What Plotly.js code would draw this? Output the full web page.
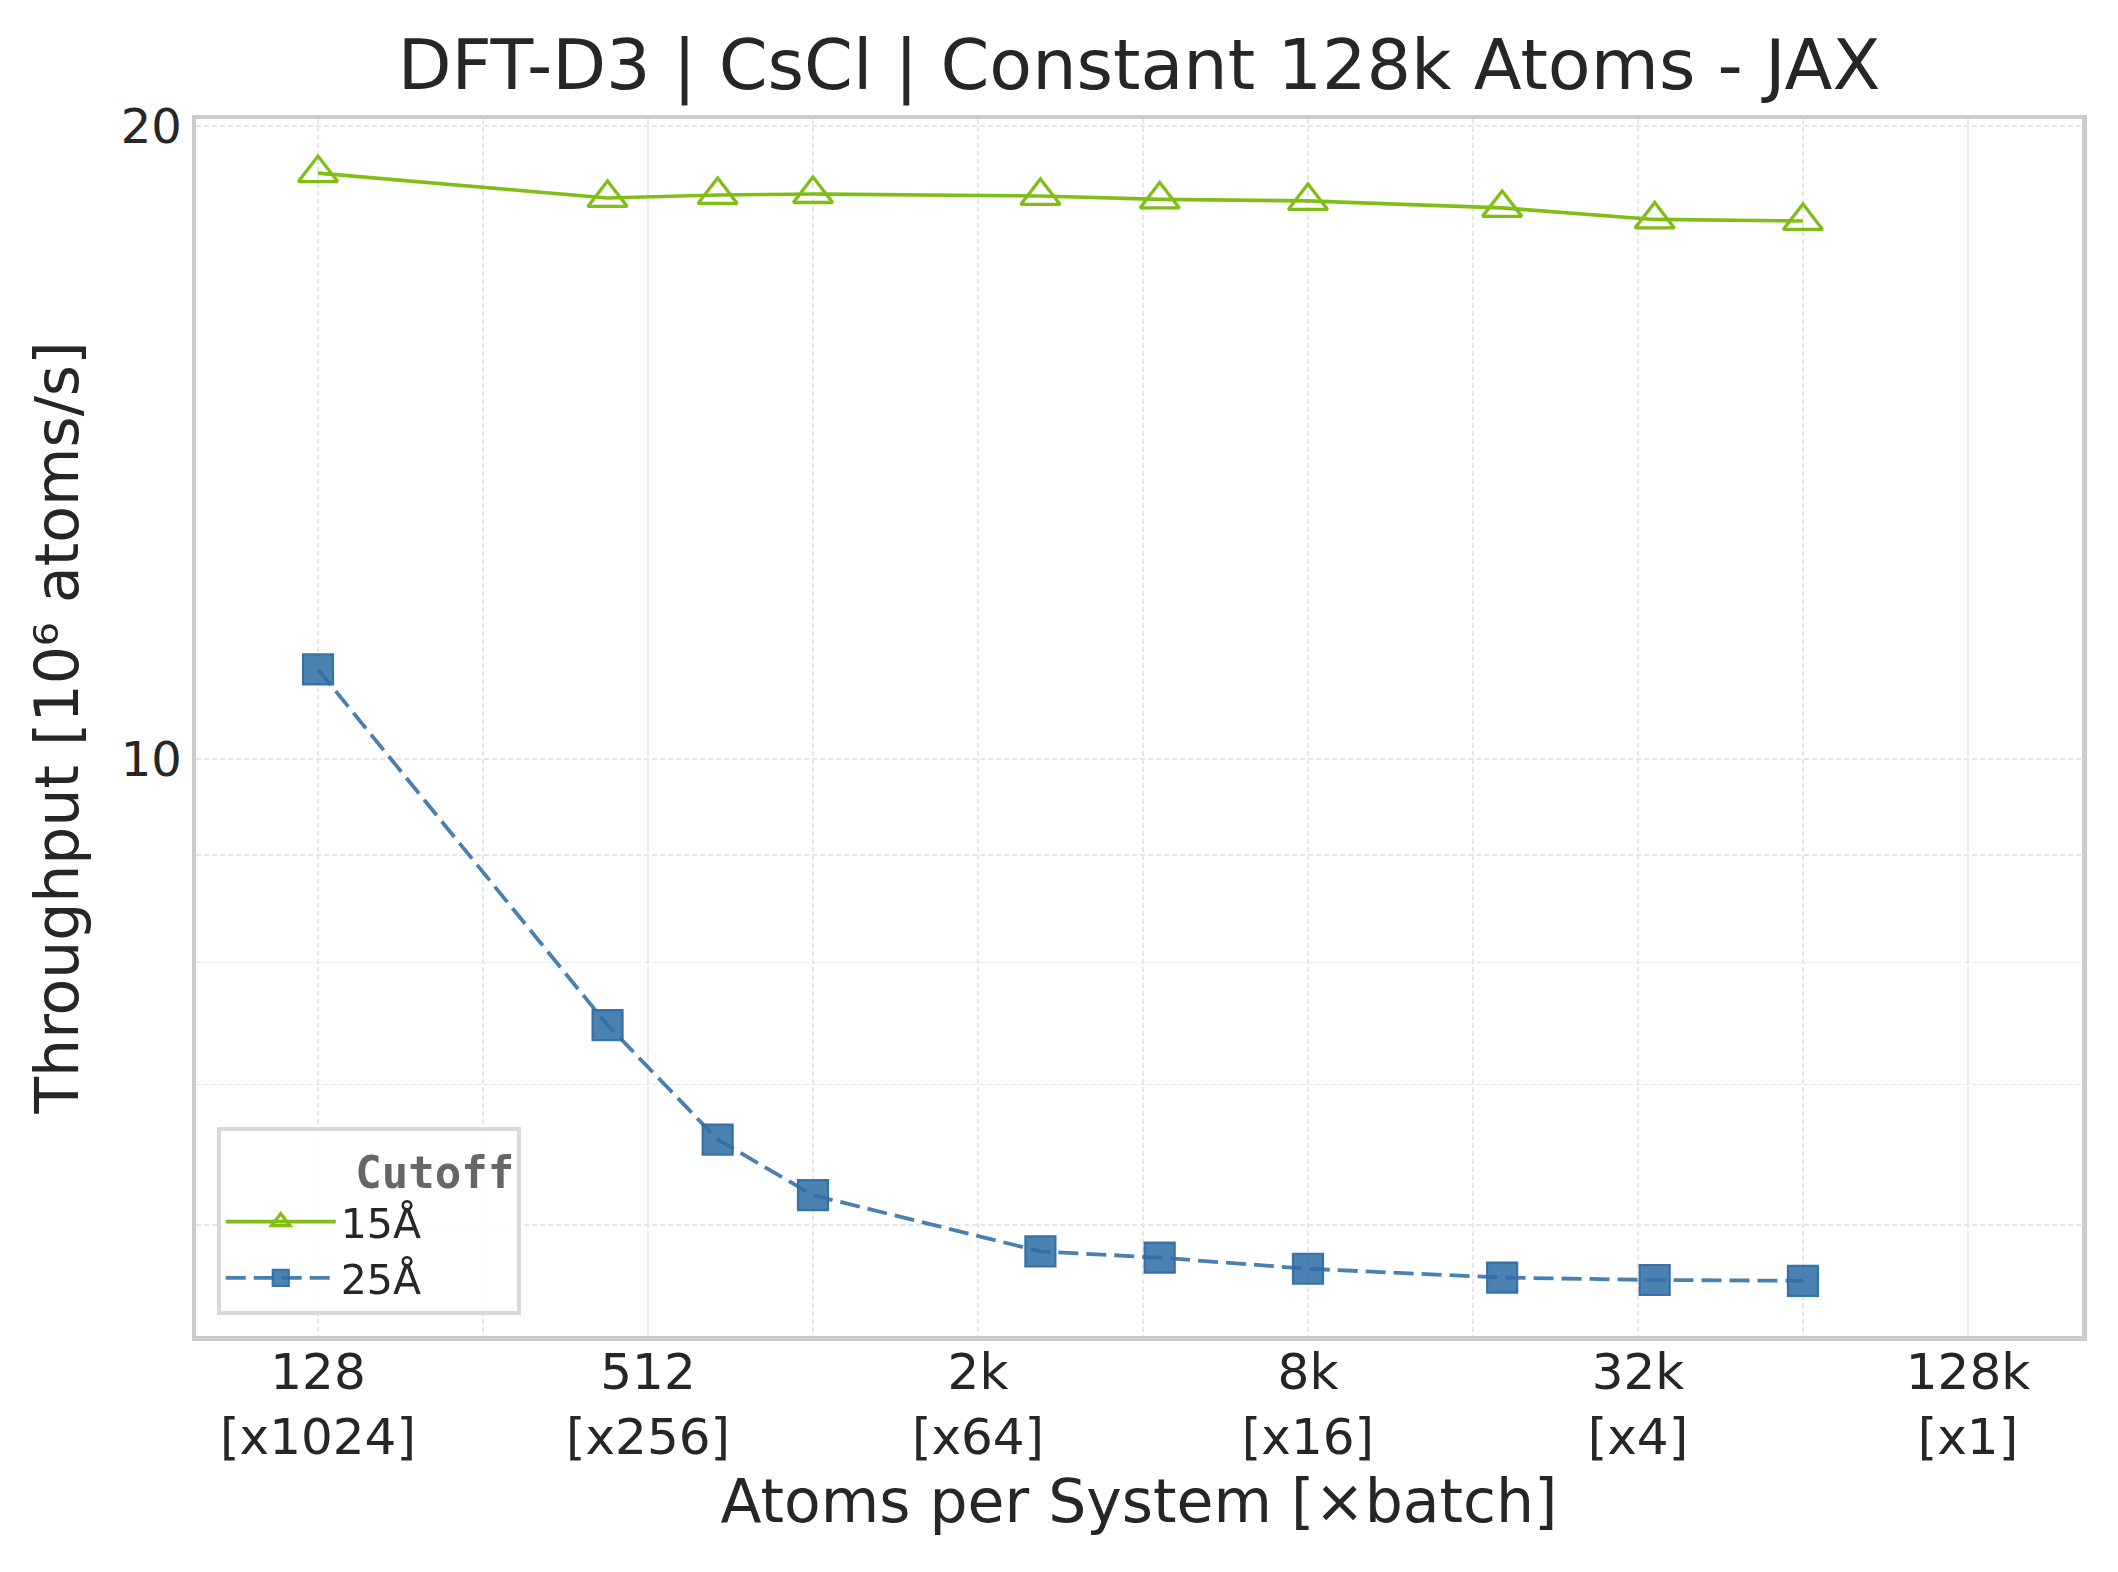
<!DOCTYPE html>
<html>
<head>
<meta charset="utf-8">
<script src="https://cdn.plot.ly/plotly-3.0.1.min.js"></script>
<style>
  html, body { margin: 0; padding: 0; background: #fff; }
  #chart { width: 2118px; height: 1572px; }
</style>
</head>
<body>
<div id="chart"></div>
<script>
// ═══ Data ═══
const atoms = [128, 432, 686, 1024, 2662, 4394, 8192, 18522, 35152, 65536];
const tput15 = [19.00, 18.49, 18.55, 18.57, 18.53, 18.46, 18.43, 18.29, 18.06, 18.03];
const tput25 = [11.03, 7.47, 6.59, 6.20, 5.83, 5.79, 5.72, 5.665, 5.65, 5.645];

const xTickVals = [128, 512, 2048, 8192, 32768, 131072];
const xTickText = ["128<br>[x1024]", "512<br>[x256]", "2k<br>[x64]", "8k<br>[x16]", "32k<br>[x4]", "128k<br>[x1]"];
const xMinorVals = [256, 1024, 4096, 16384, 65536];
const yTickVals = [6, 7, 8, 9, 10, 20];
const yTickText = ["", "", "", "", "10", "20"];

// ═══ Theme ═══
const C = { green: "#76b900", blue: "#2f6ea5", text: "#262626", grid: "#e6e6e6", frame: "#cccccc" };
const FONT = "DejaVu Sans, Verdana, sans-serif";
const GRID = { showgrid: true, gridcolor: C.grid, gridwidth: 1.6, griddash: "5px,3px" };

const traces = [
    {
        x: atoms, y: tput15, name: "15Å", mode: "lines+markers",
        line: { color: C.green, width: 3.6 }, opacity: 0.92,
        marker: { symbol: "triangle-up-open", size: 34, color: C.green, line: { color: C.green, width: 3.3 } }
    },
    {
        x: atoms, y: tput25, name: "25Å", mode: "lines+markers",
        line: { color: "rgba(47,110,165,0.88)", width: 3.8, dash: "20px,8px" },
        marker: { symbol: "square", size: 30, color: "rgba(47,110,165,0.86)", line: { color: "rgba(47,110,165,0.95)", width: 2.2 } }
    }
];

const layout = {
    width: 2118, height: 1572,
    margin: { l: 196, r: 36, t: 119, b: 236 },
    paper_bgcolor: "#ffffff", plot_bgcolor: "#ffffff",
    font: { family: FONT, color: C.text, size: 48 },
    showlegend: true,
    title: {
        text: "DFT-D3 | CsCl | Constant 128k Atoms - JAX",
        font: { family: FONT, size: 70, color: C.text },
        x: 0.5, xref: "paper", xanchor: "center",
        y: 0.9587, yref: "container", yanchor: "middle"
    },
    xaxis: {
        type: "log", range: [1.8846, 5.3256],
        tickmode: "array", tickvals: xTickVals, ticktext: xTickText,
        ticks: "", tickfont: { size: 50, color: C.text }, ticklabelstandoff: -12,
        ...GRID,
        minor: { tickmode: "array", tickvals: xMinorVals, ticks: "", ...GRID },
        showline: true, linecolor: C.frame, linewidth: 4.5, mirror: true, zeroline: false,
        title: { text: "Atoms per System [×batch]", font: { size: 60, color: C.text }, standoff: 4 }
    },
    yaxis: {
        type: "log", range: [0.7254, 1.3045],
        tickmode: "array", tickvals: yTickVals, ticktext: yTickText,
        ticks: "", tickfont: { size: 48, color: C.text },
        ...GRID,
        showline: true, linecolor: C.frame, linewidth: 4.5, mirror: true, zeroline: false,
        title: { text: "Throughput [10⁶ atoms/s]", font: { size: 60, color: C.text }, standoff: 24 }
    },
    legend: {
        x: 0.011, y: 0.017, xanchor: "left", yanchor: "bottom",
        bgcolor: "rgba(255,255,255,0.9)", bordercolor: "#d9d9d9", borderwidth: 4,
        font: { family: FONT, size: 41, color: C.text },
        title: { text: "\u00a0\u00a0\u00a0\u00a0\u00a0<b>Cutoff</b>", font: { family: "DejaVu Sans Mono, monospace", size: 44, color: "#666666" } },
        tracegroupgap: 0, itemsizing: "trace", itemwidth: 110
    }
};

Plotly.newPlot("chart", traces, layout, { displayModeBar: false, staticPlot: true });
</script>
</body>
</html>
